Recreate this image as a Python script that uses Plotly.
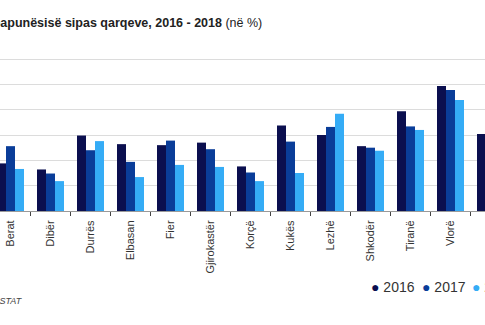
import plotly.graph_objects as go

regions = ["Berat", "Dibër", "Durrës", "Elbasan", "Fier", "Gjirokastër", "Korçë",
           "Kukës", "Lezhë", "Shkodër", "Tiranë", "Vlorë", "Shqipëri"]
years = ["2016", "2017", "2018"]
v2016 = [9.4, 8.2, 14.9, 13.2, 13.0, 13.5, 8.8, 16.9, 15.0, 12.8, 19.7, 24.7, 15.2]
v2017 = [12.8, 7.4, 12.0, 9.7, 13.9, 12.2, 7.6, 13.7, 16.6, 12.5, 16.7, 23.9, 13.7]
v2018 = [8.3, 5.9, 13.8, 6.7, 9.1, 8.7, 5.9, 7.5, 19.2, 11.9, 16.0, 21.9, 12.3]
colors = ["#0b0f4f", "#0a3d99", "#35acf6"]

FONT = "Liberation Sans Narrow, Arial Narrow, Liberation Sans, Arial, sans-serif"

W, H = 485, 325
TOP, BOT = 56, 211
PH = BOT - TOP
fig = go.Figure()
for name, vals, c in zip(years, [v2016, v2017, v2018], colors):
    fig.add_trace(go.Bar(x=regions, y=vals, name=name, marker_color=c,
                         marker_line_width=0, showlegend=False))

fig.update_layout(
    width=W, height=H,
    margin=dict(l=0, r=0, t=TOP, b=H - BOT, pad=0),
    paper_bgcolor="white", plot_bgcolor="white",
    barmode="group", bargap=0.325, bargroupgap=0,
    font=dict(family=FONT, color="#333333"),
    xaxis=dict(range=[-0.2625, 11.8625], showgrid=False, showline=True,
               linecolor="#9a9a9a", linewidth=1, ticks="outside", tickson="boundaries",
               ticklen=4, tickcolor="#444444", tickwidth=1, tickangle=-90,
               ticklabelstandoff=4,
               tickfont=dict(size=11, color="#333333", family=FONT)),
    yaxis=dict(range=[0, 30.6], tickvals=[5, 10, 15, 20, 25, 30], showgrid=True,
               gridcolor="#dcdcdc", gridwidth=1, showticklabels=False,
               zeroline=False, showline=False),
)

def py(ypx):
    return (BOT - ypx) / PH

# Title (left part cut off by the page edge, as in the reference)
fig.add_annotation(xref="paper", yref="paper", x=264 / W, y=py(23),
                   xanchor="right", yanchor="middle", showarrow=False,
                   text="<b>Shkalla e papunësisë sipas qarqeve, 2016 - 2018</b> (në %)",
                   font=dict(size=12.5, color="#222222", family=FONT))

# Source
fig.add_annotation(xref="paper", yref="paper", x=25 / W, y=py(301),
                   xanchor="right", yanchor="middle", showarrow=False,
                   text="<i>Burimi: INSTAT</i>",
                   font=dict(size=9, color="#444444", family=FONT))

# Legend built from text
leg_x = [369, 420, 470]
for lx, name, c in zip(leg_x, years, colors):
    fig.add_annotation(xref="paper", yref="paper", x=lx / W, y=py(287),
                       xanchor="left", yanchor="middle", showarrow=False,
                       text=f"<span style='color:{c}'>●</span> {name}",
                       font=dict(size=14, color="#333333", family=FONT))

fig.write_html("out.html")
